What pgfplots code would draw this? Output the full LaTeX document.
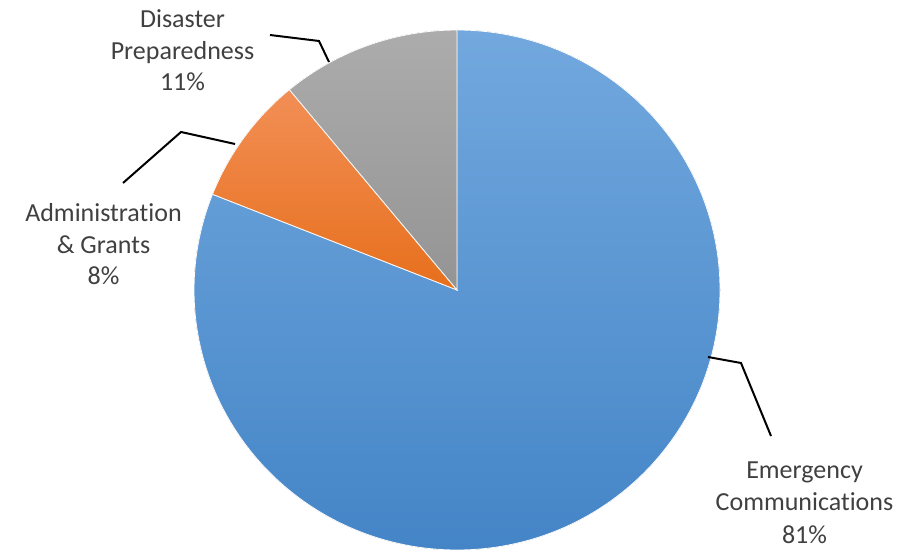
\documentclass[border=0pt]{standalone}
\usepackage{pgfplots}
\pgfplotsset{compat=1.18}
\usepackage{fontspec}
\setmainfont[Ligatures={NoCommon,NoContextual}]{Carlito}

\definecolor{blueTop}{RGB}{114,168,222}
\definecolor{blueBot}{RGB}{68,133,199}
\definecolor{orangeTop}{RGB}{242,143,86}
\definecolor{orangeBot}{RGB}{231,111,28}
\definecolor{grayTop}{RGB}{172,172,172}
\definecolor{grayBot}{RGB}{148,148,148}
\definecolor{labelgray}{RGB}{64,64,64}

% shares (percent), clockwise from 12 o'clock
\def\pEC{81}
\def\pAG{8}
\def\pDP{11}
\pgfmathsetmacro\aA{90}
\pgfmathsetmacro\aB{\aA-3.6*\pEC}
\pgfmathsetmacro\aC{\aB-3.6*\pAG}
\pgfmathsetmacro\aD{\aC-3.6*\pDP}

\begin{document}
\begin{tikzpicture}[font=\fontsize{26}{31}\selectfont]
\begin{axis}[
  scale only axis,
  width=905pt, height=555pt,
  xmin=0, xmax=905, ymin=0, ymax=555,
  hide axis,
  clip=false,
]
  % slices
  \fill[top color=blueTop, bottom color=blueBot, draw=white, line width=0.8pt]
    (axis cs:457,265) -- ++(\aA:263pt and 260pt)
    arc[start angle=\aA, end angle=\aB, x radius=263pt, y radius=260pt] -- cycle;
  \fill[top color=orangeTop, bottom color=orangeBot, draw=white, line width=0.8pt]
    (axis cs:457,265) -- ++(\aB:263pt and 260pt)
    arc[start angle=\aB, end angle=\aC, x radius=263pt, y radius=260pt] -- cycle;
  \fill[top color=grayTop, bottom color=grayBot, draw=white, line width=0.8pt]
    (axis cs:457,265) -- ++(\aC:263pt and 260pt)
    arc[start angle=\aC, end angle=\aD, x radius=263pt, y radius=260pt] -- cycle;

  % leader lines
  \draw[black, line width=2pt] (axis cs:270,520) -- (axis cs:319,514) -- (axis cs:329,493);
  \draw[black, line width=2pt] (axis cs:123,372) -- (axis cs:181,423) -- (axis cs:235,411);
  \draw[black, line width=2pt] (axis cs:708,198) -- (axis cs:741,192) -- (axis cs:771,119);

  % labels
  \node[anchor=base, text=labelgray, inner sep=0pt] at (axis cs:182.5,527) {Disaster};
  \node[anchor=base, text=labelgray, inner sep=0pt] at (axis cs:182.5,495.5) {Preparedness};
  \node[anchor=base, text=labelgray, inner sep=0pt] at (axis cs:182.5,464) {11\%};

  \node[anchor=base, text=labelgray, inner sep=0pt] at (axis cs:103.5,333) {Administration};
  \node[anchor=base, text=labelgray, inner sep=0pt] at (axis cs:103.5,301.5) {\& Grants};
  \node[anchor=base, text=labelgray, inner sep=0pt] at (axis cs:103.5,270) {8\%};

  \node[anchor=base, text=labelgray, inner sep=0pt] at (axis cs:804.5,77) {Emergency};
  \node[anchor=base, text=labelgray, inner sep=0pt] at (axis cs:804.5,44.5) {Communications};
  \node[anchor=base, text=labelgray, inner sep=0pt] at (axis cs:804.5,12) {81\%};
\end{axis}
\path (0,0) rectangle (905pt,555pt);
\end{tikzpicture}
\end{document}
